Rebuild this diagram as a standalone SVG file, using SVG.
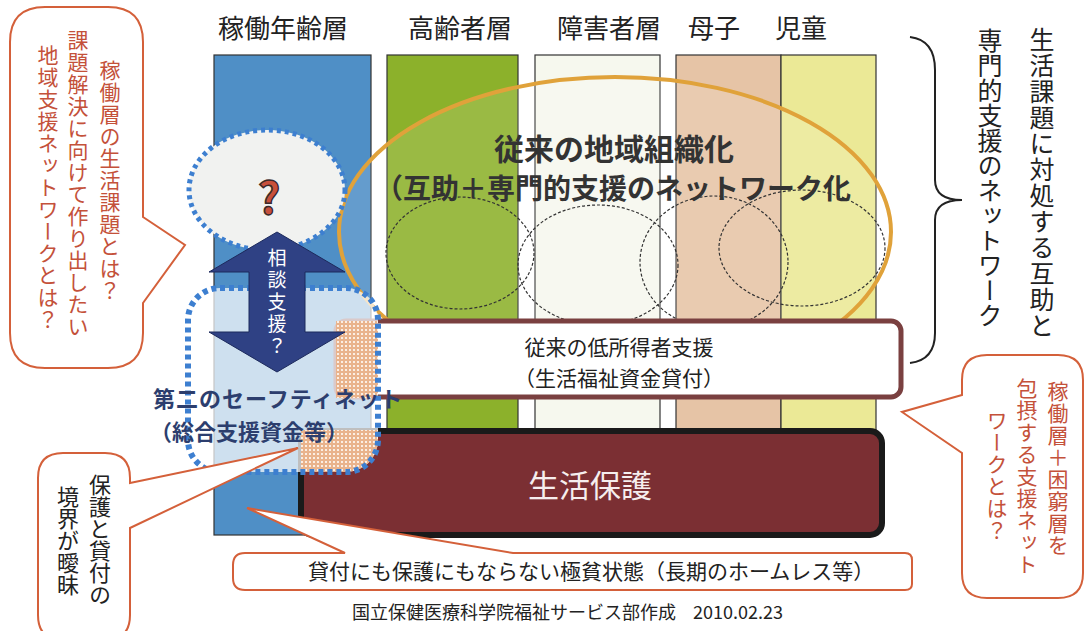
<svg xmlns="http://www.w3.org/2000/svg" width="1085" height="631" viewBox="0 0 1085 631">
<style>
  text { font-family: "Noto Sans CJK JP", "Noto Sans", sans-serif; }
  .lbl { font-size: 26px; fill: #222; }
  .vt { writing-mode: vertical-rl; }
  .red { fill: #c4513a; font-size: 21px; letter-spacing: 1px; }
  .blk { fill: #222; }
  .call { fill: #fff; stroke: #d4603a; stroke-width: 2; }
  .col { stroke: #333; stroke-width: 1.2; }
  .thin { fill: none; stroke: #333; stroke-width: 1.2; stroke-dasharray: 3 2; }
  .dotb { stroke: #3d7fd0; stroke-dasharray: 5 4; }
</style>
<defs>
  <pattern id="peach" width="4" height="4" patternUnits="userSpaceOnUse">
    <rect width="4" height="4" fill="#e9b38c"/>
    <rect x="1" y="1" width="2" height="2" fill="#fbeee3"/>
  </pattern>
  <clipPath id="snclip"><rect x="188" y="288" width="190" height="184" rx="32"/></clipPath>
</defs>
<rect width="1085" height="631" fill="#fff"/>

<g id="labels">
  <text class="lbl" x="218" y="38">稼働年齢層</text>
  <text class="lbl" x="408" y="38">高齢者層</text>
  <text class="lbl" x="557" y="38">障害者層</text>
  <text class="lbl" x="688" y="38">母子</text>
  <text class="lbl" x="775" y="38">児童</text>
</g>

<g id="columns">
  <rect class="col" x="214" y="55" width="157" height="480" fill="#4f8fc6"/>
  <rect class="col" x="387" y="55" width="131" height="440" fill="#8cb12b"/>
  <rect class="col" x="535" y="55" width="125" height="440" fill="#f6f8ee"/>
  <rect class="col" x="676" y="55" width="105" height="440" fill="#e6c4a6"/>
  <rect class="col" x="781" y="55" width="95" height="440" fill="#ebe996"/>
</g>

<g id="network">
  <ellipse cx="615" cy="232" rx="276" ry="155" fill="#fff" fill-opacity="0.12" stroke="#e0a23a" stroke-width="4"/>
  <ellipse class="thin" cx="460" cy="253" rx="74" ry="56"/>
  <ellipse class="thin" cx="598" cy="265" rx="80" ry="60"/>
  <ellipse class="thin" cx="714" cy="262" rx="74" ry="66"/>
  <ellipse class="thin" cx="802" cy="248" rx="83" ry="58"/>
  <text x="614" y="160" text-anchor="middle" font-size="30" font-weight="bold" fill="#333">従来の地域組織化</text>
  <text x="613" y="199" text-anchor="middle" font-size="28" font-weight="bold" fill="#333">（互助＋専門的支援のネットワーク化</text>
</g>

<g id="lowincome">
  <rect x="336" y="321" width="565" height="76" rx="10" fill="#fff" stroke="#7a4040" stroke-width="5"/>
  <text x="619" y="355" text-anchor="middle" font-size="21" fill="#222">従来の低所得者支援</text>
  <text x="619" y="386" text-anchor="middle" font-size="21" fill="#222">（生活福祉資金貸付）</text>
</g>

<g id="seikatsuhogo">
  <rect x="301" y="431" width="581" height="104" rx="12" fill="#7b2f33" stroke="#1a1a1a" stroke-width="6"/>
  <text x="590" y="497" text-anchor="middle" font-size="31" fill="#f6eeee">生活保護</text>
</g>

<g id="safetynet">
  <rect x="188" y="288" width="190" height="184" rx="32" fill="#fff" fill-opacity="0.72"/>
  <g clip-path="url(#snclip)">
    <rect x="336" y="321" width="45" height="77" fill="url(#peach)"/>
    <rect x="301" y="430" width="80" height="45" fill="url(#peach)"/>
  </g>
  <rect class="dotb" x="188" y="288" width="190" height="184" rx="32" fill="none" stroke-width="6"/>
  <text x="153" y="407" font-size="22" font-weight="bold" fill="#2c3e6e" letter-spacing="1">第二のセーフティネット</text>
  <text x="150" y="440" font-size="22" font-weight="bold" fill="#2c3e6e">（総合支援資金等）</text>
</g>

<g id="question">
  <ellipse cx="267" cy="190" rx="78" ry="60" fill="#f1f2f0" stroke="#3d7fd0" stroke-width="5" stroke-dasharray="4 4"/>
  <text x="269" y="214" text-anchor="middle" font-family="Liberation Sans, sans-serif" font-size="44" font-weight="bold" fill="#c8503c" stroke="#3a2a2a" stroke-width="1.5">?</text>
</g>

<g id="soudan">
  <path d="M277,232 L345,272 L305,272 L305,332 L345,332 L277,372 L209,332 L249,332 L249,272 L209,272 Z" fill="#2f4184" stroke="#1d2a5c" stroke-width="1"/>
  <text class="vt" x="277" y="248" font-size="19" letter-spacing="3" fill="#fff">相談支援？</text>
</g>

<g id="brace">
  <path d="M910,37 Q935,40 935,70 L935,180 Q935,200 962,200 Q935,200 935,220 L935,333 Q935,360 910,363" fill="none" stroke="#222" stroke-width="2"/>
  <text class="vt blk" x="1042" y="27" font-size="25" letter-spacing="1">生活課題に対処する互助と</text>
  <text class="vt blk" x="990" y="28" font-size="25" letter-spacing="0">専門的支援のネットワーク</text>
</g>

<g id="callout-left">
  <path class="call" d="M143,217 L185,245 L143,303 L143,333 Q143,368 108,368 L45,368 Q10,368 10,333 L10,42 Q10,7 45,7 L108,7 Q143,7 143,42 Z"/>
  <text class="vt red" x="110" y="60">稼働層の生活課題とは？</text>
  <text class="vt red" x="78" y="30">課題解決に向けて作り出したい</text>
  <text class="vt red" x="48" y="45">地域支援ネットワークとは？</text>
</g>

<g id="callout-right">
  <path class="call" d="M962,395 L902,412 L962,453 L962,573 Q962,598 987,598 L1058,598 Q1083,598 1083,573 L1083,380 Q1083,355 1058,355 L987,355 Q962,355 962,380 Z"/>
  <text class="vt red" x="1058" y="381">稼働層＋困窮層を</text>
  <text class="vt red" x="1027" y="378">包摂する支援ネット</text>
  <text class="vt red" x="997" y="410">ワークとは？</text>
</g>

<g id="callout-bottomleft">
  <path class="call" d="M130,483 L298,448 L130,528 L130,615 Q130,640 105,640 L63,640 Q38,640 38,615 L38,478 Q38,453 63,453 L105,453 Q130,453 130,478 Z"/>
  <text class="vt blk" x="100" y="474" font-size="22">保護と貸付の</text>
  <text class="vt blk" x="68" y="486" font-size="22">境界が曖昧</text>
</g>

<g id="callout-bottom">
  <path class="call" d="M345,553 L247,508 L513,553 L905,553 Q912,553 912,560 L912,584 Q912,590 905,590 L245,590 Q233,590 233,578 L233,565 Q233,553 245,553 Z"/>
  <text x="308" y="579" font-size="21" fill="#222">貸付にも保護にもならない極貧状態（長期のホームレス等）</text>
</g>

<g id="footer">
  <text x="352" y="619" font-size="18" fill="#222">国立保健医療科学院福祉サービス部作成</text>
  <text x="693" y="619" font-size="18" font-family="Liberation Sans, sans-serif" fill="#222">2010.02.23</text>
</g>
</svg>
